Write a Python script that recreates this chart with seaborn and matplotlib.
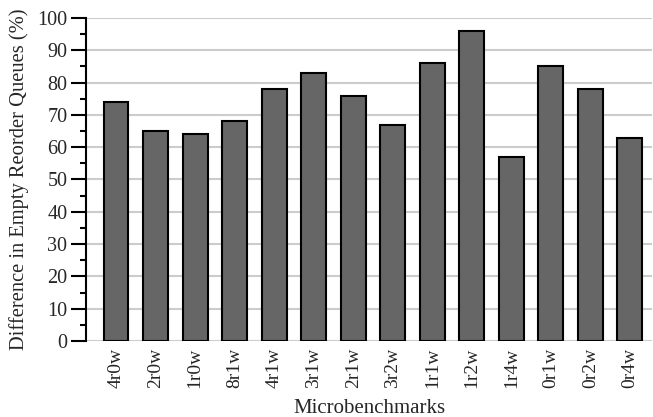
import matplotlib
matplotlib.use("Agg")
import matplotlib.pyplot as plt
import seaborn as sns
import pandas as pd
from matplotlib.ticker import MultipleLocator

categories = ["4r0w", "2r0w", "1r0w", "8r1w", "4r1w", "3r1w", "2r1w", "3r2w",
              "1r1w", "1r2w", "1r4w", "0r1w", "0r2w", "0r4w"]
values = [74, 65, 64, 68, 78, 83, 76, 67, 86, 96, 57, 85, 78, 63]

sns.set_style("white")
plt.rcParams['font.family'] = ['Liberation Serif', 'DejaVu Serif']

df = pd.DataFrame({"bench": categories, "diff": values})

fig = plt.figure(figsize=(6.53, 4.17), dpi=100)
ax = fig.add_axes([0.1317, 0.1823, 0.8668, 0.7745])

sns.barplot(data=df, x="bench", y="diff", color="#666666", saturation=1,
            edgecolor="black", linewidth=1.5, width=0.63, ax=ax, zorder=3)

ax.set_ylim(0, 100)
ax.set_xlim(-0.76, 13.56)
ax.yaxis.set_major_locator(MultipleLocator(10))
ax.yaxis.set_minor_locator(MultipleLocator(5))
ax.grid(axis="y", which="major", color="#cccccc", linewidth=1.5, zorder=0)
ax.set_axisbelow(True)

for s in ["top", "right", "bottom"]:
    ax.spines[s].set_visible(False)
ax.spines["left"].set_color("black")
ax.spines["left"].set_linewidth(1.5)

ax.tick_params(axis="y", which="major", direction="out", length=10.5, width=1.5,
               labelsize=14.5, left=True, pad=3, color="black")
ax.tick_params(axis="y", which="minor", direction="out", length=4.5, width=1.5,
               left=True, color="black")
ax.tick_params(axis="x", length=0, labelsize=14, pad=5)
plt.setp(ax.get_xticklabels(), rotation=90)

ax.set_xlabel("Microbenchmarks", fontsize=15, labelpad=8)
ax.set_ylabel("Difference in Empty Reorder Queues (%)", fontsize=14.8, labelpad=6)

fig.savefig("out.png", dpi=100)
